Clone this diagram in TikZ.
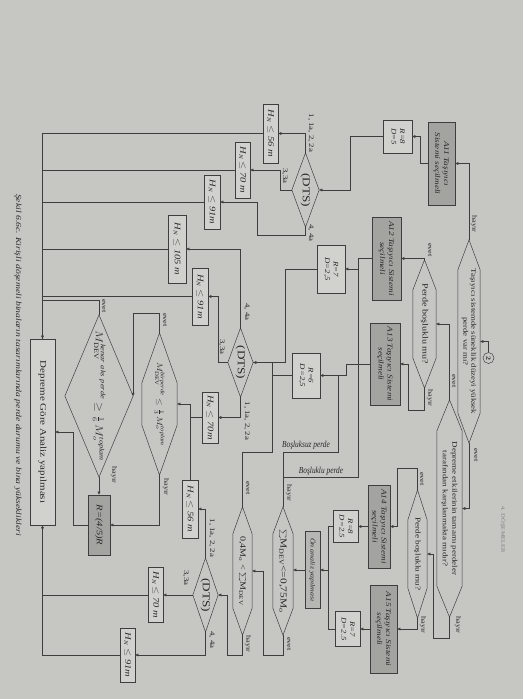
\documentclass[tikz,border=0pt]{standalone}
\usepackage{fontspec}
\setmainfont{Liberation Serif}
\usepackage{graphicx}
\usetikzlibrary{arrows.meta}
\definecolor{paper}{RGB}{198,198,195}
\definecolor{ink}{RGB}{62,62,62}
\definecolor{txt}{RGB}{40,40,40}
\definecolor{dark}{RGB}{163,163,160}
\definecolor{mid}{RGB}{182,182,179}
\definecolor{pale}{RGB}{209,209,206}
\newlength\pxu \setlength\pxu{0.05cm}
\newcommand\vt[1]{\rotatebox{-90}{\scalebox{1.25}[1]{#1}}}
\newcommand\vtt[2]{\vt{\begin{tabular}{@{}c@{}}#1\\#2\end{tabular}}}
\newcommand\hn[1]{\vt{H\textsubscript{N} $\leq$ #1}}
\newcommand\hexo[2]{\draw[ln] (#1.north) -- ([yshift=-#2*\pxu]#1.north east) -- ([yshift=#2*\pxu]#1.south east) -- (#1.south) -- ([yshift=#2*\pxu]#1.south west) -- ([yshift=-#2*\pxu]#1.north west) -- cycle;}
\newcommand\dmo[1]{\draw[ln] (#1.north) -- (#1.east) -- (#1.south) -- (#1.west) -- cycle;}
\begin{document}
\begin{tikzpicture}[x=0.05cm,y=-0.05cm,>={Triangle[length=4.5pt,width=4pt]},
  ln/.style={draw=ink,line width=0.7pt},
  arr/.style={ln,->},
  sh/.style 2 args={minimum width=#1*\pxu,minimum height=#2*\pxu,inner sep=0pt,text=txt},
  bx/.style 2 args={sh={#1}{#2},draw=ink,line width=0.7pt,fill=pale},
  abox/.style={fill=dark,font=\fontsize{10.5}{13}\selectfont\itshape},
  rbox/.style={font=\fontsize{10}{12}\selectfont\itshape},
  hbox/.style={font=\fontsize{12}{14}\selectfont\itshape},
  dts/.style={font=\fontsize{15}{17}\selectfont},
  lbl/.style={inner sep=0pt,text=txt,font=\fontsize{9.5}{11}\selectfont},
  num/.style={inner sep=0pt,text=txt,font=\fontsize{10}{12}\selectfont}]
\useasboundingbox (0,0) rectangle (523,699);
\fill[paper] (0,0) rectangle (523,699);

\node[circle,draw=ink,line width=0.7pt,minimum size=11*\pxu,inner sep=0pt,text=txt,font=\fontsize{9}{10}\selectfont\bfseries] (c2) at (488.5,358) {\vt{2}};
\node[inner sep=0pt,text=gray,font=\fontsize{7.5}{9}\selectfont] (hdr) at (503,530) {\vt{4. DÖŞEMELER}};
\node[inner sep=0pt,text=txt,font=\fontsize{11}{13}\selectfont\itshape] (cap) at (18,365) {\vt{Şekil 6.6c. Kirişli döşemeli binaların tasarımlarında perde durumu ve bina yükseklikleri}};

\node[sh={22}{203},font=\fontsize{10}{11.4}\selectfont] (hx1) at (469,341.5) {\vtt{Taşıyıcı sistemde süneklik düzeyi yüksek}{perde var mı?}};
\hexo{hx1}{30}
\node[sh={23}{128},font=\fontsize{11.5}{13}\selectfont] (hx2) at (424.5,324) {\vt{Perde boşluklu mu?}};
\hexo{hx2}{30}
\node[sh={25}{217},font=\fontsize{10.3}{13.5}\selectfont] (hx3) at (449.5,508.5) {\vtt{Depreme etkilerinin tamamı perdeler}{tarafından karşılanmakta mıdır?}};
\hexo{hx3}{31}
\node[sh={19}{128},font=\fontsize{10.5}{12}\selectfont] (hx4) at (417.5,554) {\vt{Perde boşluklu mu?}};
\hexo{hx4}{30}
\node[sh={20}{128},font=\fontsize{13}{15}\selectfont] (hx5) at (283,571) {\vt{$\sum$M\textsubscript{DEV}<=0,75M\textsubscript{o}}};
\hexo{hx5}{27}
\node[sh={19}{128},font=\fontsize{11.5}{13}\selectfont] (hx6) at (242.5,571) {\vt{0,4M\textsubscript{o} < $\sum$M\textsubscript{DEV}}};
\hexo{hx6}{27}
\node[sh={35}{142},font=\fontsize{11}{13}\selectfont] (hx7) at (159.5,404) {\vt{$M^{\mathit{birperde}}_{\mathrm{DEV}} \leq \frac{1}{3}\,M^{\mathit{toplam}}_{o}$}};
\hexo{hx7}{50}

\node[sh={27}{74},dts] (dts1) at (305.5,190) {\vt{(DTS)}};
\dmo{dts1}
\node[sh={25}{69},dts] (dts2) at (240.5,362.5) {\vt{(DTS)}};
\dmo{dts2}
\node[sh={25}{74},dts] (dts3) at (205.5,595) {\vt{(DTS)}};
\dmo{dts3}
\node[sh={68}{162},font=\fontsize{13.5}{15}\selectfont] (kenar) at (99,396) {\vt{$M^{\mathit{kenar\ aks\ perde}}_{\mathrm{DEV}} \geq \frac{1}{6}\,M^{\mathit{toplam}}_{o}$}};
\dmo{kenar}

\node[bx={27}{83},abox] (a11) at (441.5,163.5) {\vtt{A11 Taşıyıcı}{Sistemi seçilmeli}};
\node[bx={29}{83},abox] (a12) at (386.5,258.5) {\vtt{A12 Taşıyıcı Sistemi}{seçilmeli}};
\node[bx={30}{82},abox] (a13) at (385,364) {\vtt{A13 Taşıyıcı Sistemi}{seçilmeli}};
\node[bx={22}{83},abox] (a14) at (379,526.5) {\vtt{A14 Taşıyıcı Sistemi}{seçilmeli}};
\node[bx={27}{88},abox] (a15) at (383.5,629) {\vtt{A15 Taşıyıcı Sistemi}{seçilmeli}};

\node[bx={29}{33},rbox] (r8a) at (397.5,136.5) {\vtt{R=8}{D=5}};
\node[bx={28}{48},rbox] (r7a) at (331,269) {\vtt{R=7}{D=2,5}};
\node[bx={28}{45},rbox] (r6) at (306,375.5) {\vtt{R=6}{D=2,5}};
\node[bx={25}{32},rbox] (r8b) at (345.5,526.5) {\vtt{R=8}{D=2.5}};
\node[bx={25}{35},rbox] (r7b) at (347.5,629) {\vtt{R=7}{D=2.5}};
\node[bx={22}{60},abox,font=\fontsize{12}{14}\selectfont\itshape] (r45) at (99,525) {\vt{R=(4/5)R}};
\node[bx={15}{77},fill=mid,font=\fontsize{9}{11}\selectfont\itshape] (onan) at (312.5,570) {\vt{Ön analiz yapılması}};
\node[bx={25}{186},font=\fontsize{12.5}{14}\selectfont] (dep) at (42.5,432) {\vt{Depreme Göre Analiz yapılması}};

\node[bx={15}{59},hbox] (hn56a) at (270.5,133.5) {\hn{56 m}};
\node[bx={15}{56},hbox] (hn70a) at (242.5,170) {\hn{70 m}};
\node[bx={16}{54},hbox] (hn91a) at (212,202) {\hn{91m}};
\node[bx={18}{68},hbox] (hn105) at (177,249) {\hn{105 m}};
\node[bx={16}{57},hbox] (hn91b) at (200,296.5) {\hn{91m}};
\node[bx={16}{51},hbox] (hn70b) at (210,417.5) {\hn{70m}};
\node[bx={16}{58},hbox] (hn56b) at (190,509) {\hn{56 m}};
\node[bx={15}{55},hbox] (hn70c) at (155.5,595) {\hn{70 m}};
\node[bx={15}{54},hbox] (hn91c) at (127.5,655) {\hn{91m}};

\draw[arr] (c2) |- (hx1.east);
\draw[arr] (hx1.north) |- (a11.east);
\draw[arr] (a11.west) -- ++(-8,0) |- (r8a.east);
\draw[arr] (r8a.west) -- ++(-33,0) |- (dts1.east);
\draw[arr] (dts1.north) |- (hn56a.east);
\draw[arr] (dts1.west) -- ++(-12,0) |- (hn70a.east);
\draw[arr] (dts1.south) -- ++(0,8) -- ++(-48.5,0) |- (hn91a.east);
\draw[arr] (hn56a.west) -| (dep.north);
\foreach \n in {hn70a,hn91a,hn105,hn91b}
  \draw[ln] (\n.west) -- (\n.west -| dep.north);
\draw[ln] (kenar.north) -- ++(0,-15) -| (dep.north);

\draw[arr] (hx1.south) |- (hx3.east);
\draw[arr] (hx3.north) |- (hx2.east);
\draw[arr] (hx2.north) |- (a12.east);
\draw[arr] (hx2.south) -- ++(0,22) -- ++(-16,0) |- (a13.east);
\draw[arr] (hx3.south) -- ++(0,21) -- ++(-16.5,0) |- (hx4.east);
\draw[arr] (hx4.north) -- ++(0,-22) -- ++(-20.5,0) |- (a14.east);
\draw[arr] (hx4.south) |- (a15.east);

\draw[arr] (a12.west) -- ++(-14,0) |- (r7a.east) coordinate[pos=.5] (bk);
\draw[ln] (bk) -- ++(0,208) -| (hx5.north);
\draw[arr] (a13.west) -- ++(-24,0) |- (r6.east) coordinate[pos=.65] (bs);
\draw[ln] (bs) -- ++(0,76.5) -| (hx5.north);
\draw[arr] (r7a.west) -- ++(-32,0) |- (dts2.east);
\draw[ln] (r6.west) -- ++(-20,0) |- (dts2.east);
\draw[ln] (r6.west) -- ++(-20,0) -- ++(0,76.5) -| (hx6.north);

\draw[arr] (dts2.north) |- (hn105.east);
\draw[arr] (dts2.west) -- ++(-10,0) |- (hn91b.east);
\draw[arr] (dts2.south) |- (hn70b.east);
\draw[arr] (hn70b.west) -- ++(-12,0) |- (hx7.east);
\draw[ln] (hn56b.north) |- (hn70b.west);
\draw[arr] (hx7.north) -- ++(0,-20) -| (kenar.east);
\draw[arr] (hx7.south) |- (r45.east);
\draw[arr] (kenar.south) -- (r45.north);
\draw[arr] (r45.west) -- ++(-15,0) |- (dep.east);

\draw[arr] (a14.west) -- (r8b.east);
\draw[arr] (a15.west) -- (r7b.east);
\draw[ln] (r8b.west) -- ++(-5,0) coordinate (rj) |- (r7b.west);
\draw[arr] (rj |- onan.east) -- (onan.east);
\draw[arr] (onan.west) -- (onan.west -| hx5.east);
\draw[arr] (hx5.south) -- ++(0,20) -- ++(-20,0) |- (hx6.east);
\draw[arr] (hx6.south) -- ++(0,20) -- ++(-15.5,0) |- (dts3.east);
\draw[arr] (dts3.north) |- (hn56b.east);
\draw[arr] (dts3.west) -- (hn70c.east);
\draw[arr] (dts3.south) |- (hn91c.east);
\draw[arr] (hn91c.west) -| (dep.south);
\draw[ln] (hn70c.west) -- (hn70c.west -| dep.south);

\node[lbl] (t1) at (474,224) {\vt{hayır}};
\node[lbl] (t2) at (476,455) {\vt{evet}};
\node[lbl] (t3) at (454,381) {\vt{evet}};
\node[lbl] (t4) at (430,250) {\vt{evet}};
\node[lbl] (t5) at (430,398) {\vt{hayır}};
\node[lbl] (t6) at (458,625) {\vt{hayır}};
\node[lbl] (t7) at (422,479) {\vt{evet}};
\node[lbl] (t8) at (423,625) {\vt{hayır}};
\node[lbl] (t9) at (289,493) {\vt{hayır}};
\node[lbl] (t10) at (289,644) {\vt{evet}};
\node[lbl] (t11) at (248,488) {\vt{evet}};
\node[lbl] (t12) at (248,644) {\vt{hayır}};
\node[lbl] (t13) at (165,320) {\vt{evet}};
\node[lbl] (t14) at (166,487) {\vt{hayır}};
\node[lbl] (t15) at (104,306) {\vt{evet}};
\node[lbl] (t16) at (114,475) {\vt{hayır}};
\node[num] (d1) at (311,133) {\vt{1, 1a, 2, 2a}};
\node[num] (d2) at (285,176) {\vt{3,3a}};
\node[num] (d3) at (311,233) {\vt{4, 4a}};
\node[num] (d4) at (247,312) {\vt{4, 4a}};
\node[num] (d5) at (222,347) {\vt{3,3a}};
\node[num] (d6) at (247,421) {\vt{1, 1a, 2, 2a}};
\node[num] (d7) at (212,538) {\vt{1, 1a, 2, 2a}};
\node[num] (d8) at (186,578) {\vt{3,3a}};
\node[num] (d9) at (212,640) {\vt{4, 4a}};
\node[inner sep=0pt,text=txt,font=\fontsize{10.5}{12}\selectfont\itshape] (bsz) at (306,445) {\scalebox{1}[1.25]{Boşluksuz perde}};
\node[inner sep=0pt,text=txt,font=\fontsize{10.5}{12}\selectfont\itshape] (bsl) at (321,471) {\scalebox{1}[1.25]{Boşluklu perde}};
\end{tikzpicture}
\end{document}
